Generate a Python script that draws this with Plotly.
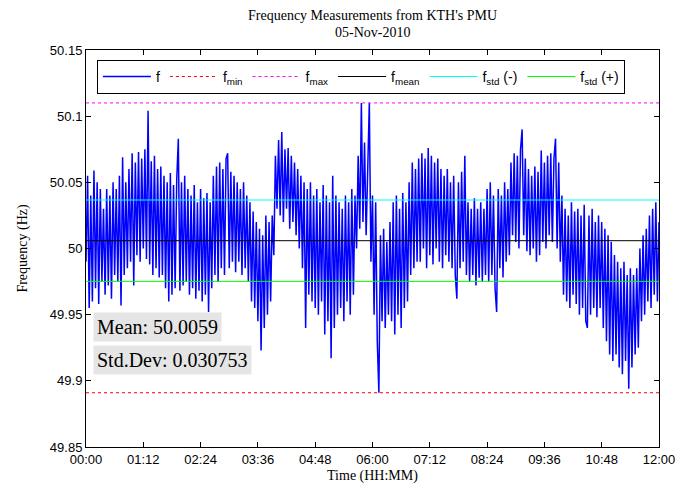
import plotly.graph_objects as go

# ---- data ----
sample_minutes = list(range(0, 721, 2))  # sample time in minutes after 00:00

freq_hz = [
    # 00:00 - 00:58
    49.99, 50.055, 49.955, 50.04, 49.96, 50.059, 49.97, 50.05, 49.958, 50.045,
    49.975, 50.03, 49.965, 50.045, 49.972, 50.04, 49.962, 50.05, 49.98, 50.045,
    49.975, 50.055, 49.957, 50.069, 49.98, 50.05, 49.985, 50.06, 49.99, 50.072,
    # 01:00 - 01:58
    49.972, 50.065, 49.995, 50.073, 49.99, 50.068, 50.0, 50.075, 49.992, 50.104,
    49.988, 50.066, 49.98, 50.07, 49.985, 50.06, 49.978, 50.062, 49.98, 50.055,
    49.97, 50.05, 49.96, 50.057, 49.965, 50.048, 49.97, 50.052, 50.083, 49.968,
    # 02:00 - 02:58
    50.05, 49.972, 50.055, 49.975, 50.045, 49.965, 50.04, 49.97, 50.048, 49.962,
    50.035, 49.968, 50.045, 49.96, 50.038, 49.965, 50.042, 49.952, 50.035, 49.97,
    50.055, 49.98, 50.062, 49.975, 50.065, 49.985, 50.06, 49.98, 50.068, 50.072,
    # 03:00 - 03:58
    49.985, 50.058, 49.99, 50.055, 49.982, 50.05, 49.99, 50.045, 49.98, 50.05,
    49.985, 50.04, 49.975, 50.035, 49.96, 50.028, 49.955, 50.02, 49.945, 50.015,
    49.923, 50.01, 49.94, 50.025, 49.95, 50.02, 49.96, 50.025, 49.995, 50.07,
    # 04:00 - 04:58
    50.03, 50.082, 50.025, 50.088, 50.02, 50.075, 50.03, 50.076, 50.015, 50.07,
    50.02, 50.065, 50.01, 50.06, 50.0, 50.055, 49.985, 50.05, 49.94, 50.045,
    49.965, 50.05, 49.96, 50.04, 49.955, 50.045, 49.95, 50.035, 49.96, 50.048,
    # 05:00 - 05:58
    49.935, 50.04, 49.945, 50.035, 49.917, 50.055, 49.94, 50.04, 49.95, 50.035,
    49.955, 50.03, 49.945, 50.04, 49.96, 50.035, 49.95, 50.045, 49.965, 50.04,
    50.0, 50.07, 50.015, 50.11, 50.02, 50.08, 50.01, 50.075, 50.11, 49.99,
    # 06:00 - 06:58
    50.04, 49.95, 50.035, 49.93, 49.891, 50.01, 49.945, 50.015, 49.94, 50.005,
    49.95, 50.02, 49.945, 50.035, 49.935, 50.04, 49.95, 50.03, 49.94, 50.042,
    49.955, 50.035, 49.96, 50.05, 49.98, 50.065, 49.985, 50.06, 49.99, 50.068,
    # 07:00 - 07:58
    49.99, 50.072, 50.0, 50.068, 49.985, 50.076, 49.995, 50.07, 49.988, 50.065,
    50.0, 50.068, 49.99, 50.06, 49.985, 50.055, 49.995, 50.06, 49.99, 50.05,
    49.985, 50.055, 49.98, 49.962, 50.05, 49.985, 50.058, 49.99, 50.07, 49.98,
    # 08:00 - 08:58
    50.035, 49.975, 50.03, 49.98, 50.038, 49.972, 50.03, 49.978, 50.035, 49.975,
    50.03, 49.98, 50.045, 49.975, 50.05, 49.98, 50.04, 49.97, 49.952, 50.045,
    49.985, 50.04, 49.978, 50.05, 49.99, 50.045, 49.995, 50.065, 50.01, 50.072,
    # 09:00 - 09:58
    50.005, 50.07, 50.0, 50.075, 50.09, 50.01, 50.068, 49.998, 50.06, 49.995,
    50.055, 50.0, 50.062, 49.99, 50.058, 49.995, 50.074, 50.005, 50.065, 50.0,
    50.07, 50.01, 50.072, 50.005, 50.068, 50.083, 50.0, 50.065, 49.99, 50.04,
    # 10:00 - 10:58
    49.965, 50.03, 49.96, 50.025, 49.955, 50.035, 49.965, 50.028, 49.958, 50.03,
    49.95, 50.025, 49.955, 50.033, 49.945, 49.94, 50.025, 49.95, 50.03, 49.955,
    50.02, 49.948, 50.025, 49.955, 50.02, 49.94, 50.015, 49.93, 50.01, 49.92,
    # 11:00 - 12:00
    50.005, 49.915, 49.995, 49.92, 49.99, 49.91, 49.985, 49.905, 49.99, 49.915,
    49.98, 49.894, 49.985, 49.91, 49.98, 49.92, 49.985, 49.925, 50.0, 49.945,
    50.01, 49.95, 50.015, 49.96, 50.025, 49.955, 50.03, 49.965, 50.035, 49.96,
    50.02,
]

f_mean = 50.0059
f_std = 0.030753
f_min = 49.891
f_max = 50.110

x_tick_minutes = [0, 72, 144, 216, 288, 360, 432, 504, 576, 648, 720]
x_tick_labels = ["00:00", "01:12", "02:24", "03:36", "04:48", "06:00",
                 "07:12", "08:24", "09:36", "10:48", "12:00"]
y_tick_values = [49.85, 49.9, 49.95, 50.0, 50.05, 50.1, 50.15]
y_tick_labels = ["49.85", "49.9", "49.95", "50", "50.05", "50.1", "50.15"]

serif = "Liberation Serif, Times New Roman, serif"
sans = "Liberation Sans, Arial, sans-serif"

fig = go.Figure()
fig.add_trace(go.Scatter(x=sample_minutes, y=freq_hz, mode="lines", name="f",
                         line=dict(color="#0000ff", width=1.5)))

x_ends = [sample_minutes[0], sample_minutes[-1]]
ref_lines = [
    ("f<sub>min</sub>", f_min, "#ff0000", "dot"),
    ("f<sub>max</sub>", f_max, "#ff00ff", "dot"),
    ("f<sub>mean</sub>", f_mean, "#000000", "solid"),
    ("f<sub>std</sub> (-)", f_mean + f_std, "#00ffff", "solid"),
    ("f<sub>std</sub> (+)", f_mean - f_std, "#00ff00", "solid"),
]
for name, val, col, dash in ref_lines:
    fig.add_trace(go.Scatter(x=x_ends, y=[val, val], mode="lines", name=name,
                             line=dict(color=col, width=1, dash=dash)))

axis_common = dict(showline=True, linecolor="black", linewidth=1, mirror="ticks",
                   ticks="inside", ticklen=5, tickcolor="black", showgrid=False,
                   zeroline=False, tickfont=dict(family=sans, size=13, color="black"))

fig.update_layout(
    width=686, height=483,
    margin=dict(l=78, r=35, t=42, b=44),
    paper_bgcolor="white", plot_bgcolor="white",
    xaxis=dict(range=[0, 720], tickvals=x_tick_minutes, ticktext=x_tick_labels,
               title=dict(text="Time (HH:MM)", font=dict(family=serif, size=14, color="black"),
                          standoff=4),
               **axis_common),
    yaxis=dict(range=[49.85, 50.15], tickvals=y_tick_values, ticktext=y_tick_labels,
               title=dict(text="Frequency (Hz)", font=dict(family=serif, size=14, color="black"),
                          standoff=18),
               **axis_common),
    showlegend=True,
    legend=dict(orientation="h", x=0.019, y=0.975, xanchor="left", yanchor="top",
                bgcolor="white", bordercolor="black", borderwidth=1,
                font=dict(family=sans, size=14, color="black"),
                itemwidth=48, tracegroupgap=0),
    annotations=[
        dict(text="Frequency Measurements from KTH's PMU",
             xref="paper", yref="paper", x=0.5, y=1, xanchor="center", yanchor="middle",
             yshift=35, showarrow=False, align="center",
             font=dict(family=serif, size=14, color="black")),
        dict(text="05-Nov-2010",
             xref="paper", yref="paper", x=0.5, y=1, xanchor="center", yanchor="middle",
             yshift=18, showarrow=False, align="center",
             font=dict(family=serif, size=14, color="black")),
        dict(text="Mean: 50.0059", xref="paper", yref="paper", x=0.012, y=0.34,
             xanchor="left", yanchor="top", showarrow=False, align="left",
             bgcolor="#e5e5e5", borderpad=3,
             font=dict(family=serif, size=20, color="black")),
        dict(text="Std.Dev: 0.030753", xref="paper", yref="paper", x=0.012, y=0.257,
             xanchor="left", yanchor="top", showarrow=False, align="left",
             bgcolor="#e5e5e5", borderpad=3,
             font=dict(family=serif, size=20, color="black")),
    ],
)

fig.write_html("out.html")
